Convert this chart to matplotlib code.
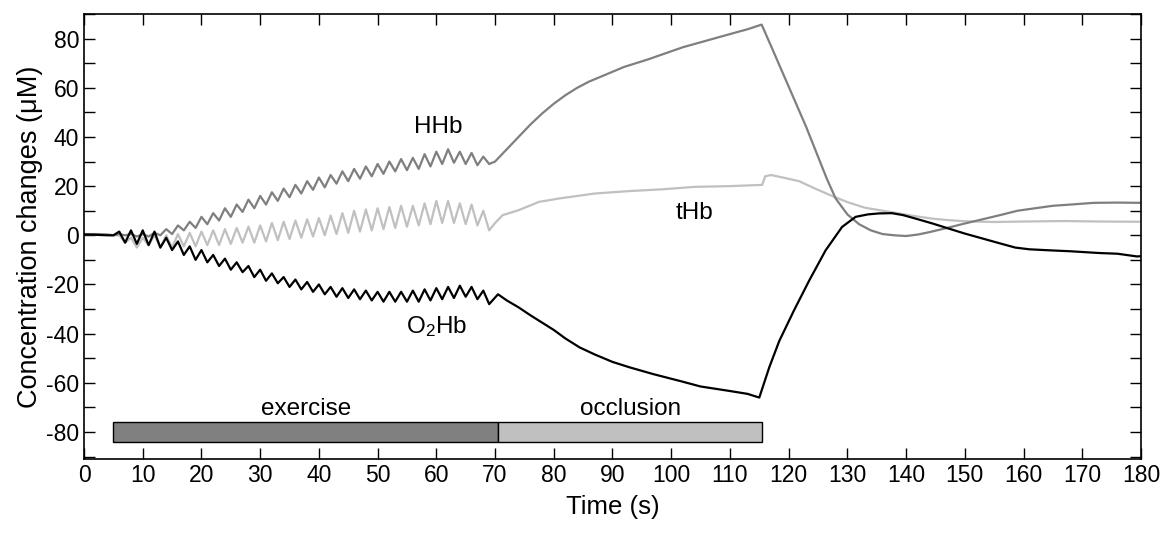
import numpy as np
import matplotlib
matplotlib.use('Agg')
from matplotlib import pyplot as plt
from matplotlib.ticker import MultipleLocator

plt.rcParams['font.family'] = ['Liberation Sans', 'DejaVu Sans']
plt.rcParams['mathtext.fontset'] = 'custom'
plt.rcParams['mathtext.rm'] = 'Liberation Sans'
plt.rcParams['mathtext.default'] = 'regular'
plt.rcParams['axes.unicode_minus'] = False

# ---- data (time in s, concentration in uM) ----
# baseline before exercise
t_base = [0, 2, 4]
hhb_base = [0.5, 0.5, 0.3]
thb_base = [0.5, 0.3, 0.2]
o2hb_base = [0.3, 0.2, 0.0]

# exercise, one extremum per second (t = 5 ... 69)
t_ex = np.arange(5, 70)
hhb_ex = [0, 0.5, 0, 0.5, -0.5, 0.5, -0.5, 1, 0, 2.5, 0.5, 4, 2, 5.5, 3, 7.5,
          4.5, 9, 6, 11, 7.5, 12.5, 9.5, 14.5, 11, 16, 12.5, 17.5, 14, 19, 15.5,
          20.5, 17, 22, 18.5, 23.5, 19.5, 24.5, 21, 26, 22, 27, 23, 28, 24, 29,
          25, 30, 26, 31, 26.5, 31.5, 27, 33, 28, 34, 29, 35, 29.5, 34, 29, 33.5,
          28.5, 32, 29]
thb_ex = [0, 0, -3, -1, -5, -1, -4, 0, -5, 0, -5, 0.5, -4.5, 1, -4.5, 1.5, -4,
          2, -4, 2.5, -3.5, 3, -3, 3.5, -3, 4, -2.5, 5, -2, 5.5, -1.5, 6, -1,
          6.5, -0.5, 7, 0, 8, 0.5, 9, 1, 10, 1.5, 10.5, 2, 11, 2.5, 11.5, 3, 12,
          3.5, 12, 4, 13, 4.5, 14, 5, 14, 5, 13, 4.5, 12.5, 4, 10, 2]
o2hb_ex = [0, 1.5, -3, 2, -3.5, 2, -4, 1.5, -5, -1, -6, -2.5, -8, -4.5, -10, -6,
           -11, -8, -12.5, -9.5, -14, -11, -15, -12.5, -17, -14, -18.5, -15.5,
           -19.5, -17, -21, -18, -22, -19, -23, -20, -24, -21, -25, -21.5, -25.5,
           -22, -26, -22.5, -26.5, -23, -27, -23, -27, -23, -27, -22.5, -27, -22,
           -26.5, -21.5, -26, -21, -25.5, -20.5, -25, -21, -26, -22.5, -28]

# occlusion and recovery
t_hhb_rec = [70, 72, 74, 76, 78, 80, 82, 84, 86, 88, 90, 92, 94, 96, 99, 102,
             105, 108, 111, 113, 115.4, 117, 119, 121, 123, 125, 126.5, 128,
             130, 132, 134, 136, 138, 140, 142, 144, 147, 150, 153, 156, 159,
             162, 165, 168, 172, 176, 180]
hhb_rec = [30, 35, 40, 45, 49.5, 53.5, 57, 60, 62.5, 64.5, 66.5, 68.5, 70, 71.5,
           74, 76.5, 78.5, 80.5, 82.5, 83.8, 85.7, 77, 66, 55, 44, 32, 23, 15,
           8.5, 4.5, 2, 0.5, 0, -0.3, 0.3, 1.3, 3, 4.8, 6.5, 8.2, 10, 11, 12,
           12.5, 13.2, 13.3, 13.2]

t_thb_rec = [70, 71.3, 74, 77.5, 81, 87, 93, 98.5, 104, 110, 115.5, 116, 117,
             119, 121.8, 124.5, 127.4, 130, 133, 136, 138.8, 141.5, 144.4, 147,
             150, 155, 160, 167, 173, 180]
thb_rec = [5, 8.2, 10.2, 13.6, 15, 17, 18, 18.7, 19.7, 20, 20.5, 24, 24.5, 23.5,
           22, 19, 16, 13.5, 11.2, 10, 8.9, 7.8, 6.8, 6.2, 5.7, 5.4, 5.6, 5.8,
           5.6, 5.5]

t_o2hb_rec = [70.5, 72, 74, 76, 78, 80, 82, 84.4, 87, 90, 92.9, 97, 101.4, 105,
              109.9, 113, 115, 116.7, 118.4, 120.9, 123.5, 126.3, 129.1, 131.4,
              133.5, 135.4, 137.6, 139.5, 141.6, 144.5, 147.3, 150, 153, 156,
              158.6, 161, 164.3, 168, 172.8, 176, 179.3, 180]
o2hb_rec = [-24, -26.5, -29.3, -32.5, -35.5, -38.5, -42, -45.6, -48.5, -51.5,
            -53.7, -56.5, -59.2, -61.5, -63.3, -64.5, -66, -53.7, -43, -30.6,
            -18.4, -6.1, 3.4, 7.5, 8.5, 8.9, 9, 8.2, 6.8, 4.8, 2.7, 0.7, -1.3,
            -3.3, -5, -5.7, -6.1, -6.5, -7.2, -7.5, -8.6, -8.5]

# protocol bar
phase_names = ['exercise', 'occlusion']
phase_start = [5, 70.5]
phase_end = [70.5, 115.5]
phase_colors = ['#808080', '#c0c0c0']

if __name__ == '__main__':

    fig = plt.figure(figsize=(11.62, 5.33), dpi=100)
    ax = fig.add_axes([0.0723, 0.1388, 0.9096, 0.8349])

    t_hhb = np.concatenate([t_base, t_ex, t_hhb_rec])
    t_thb = np.concatenate([t_base, t_ex, t_thb_rec])
    t_o2hb = np.concatenate([t_base, t_ex, t_o2hb_rec])

    ax.plot(t_thb, np.concatenate([thb_base, thb_ex, thb_rec]),
            color='#c0c0c0', lw=1.6)
    ax.plot(t_hhb, np.concatenate([hhb_base, hhb_ex, hhb_rec]),
            color='#7f7f7f', lw=1.6)
    ax.plot(t_o2hb, np.concatenate([o2hb_base, o2hb_ex, o2hb_rec]),
            color='black', lw=1.6)

    # protocol bar
    for name, s, e, c in zip(phase_names, phase_start, phase_end, phase_colors):
        ax.barh(-80, e - s, left=s, height=8.4, color=c, edgecolor='black',
                linewidth=1)
        ax.text((s + e) / 2, -70.5, name, ha='center', va='center', fontsize=17.5)

    ax.text(60.3, 44, 'HHb', ha='center', va='center', fontsize=17.5)
    ax.text(104, 9, 'tHb', ha='center', va='center', fontsize=17.5)
    ax.text(60, -37, 'O$_2$Hb', ha='center', va='center', fontsize=17.5)

    ax.set_xlim(0, 180)
    ax.set_ylim(-91, 90)
    ax.xaxis.set_major_locator(MultipleLocator(10))
    ax.yaxis.set_major_locator(MultipleLocator(20))
    ax.yaxis.set_minor_locator(MultipleLocator(10))
    ax.tick_params(which='both', direction='in', top=True, right=True,
                   length=8, width=1, labelsize=16.5)
    for sp in ax.spines.values():
        sp.set_linewidth(1.2)

    ax.set_xlabel('Time (s)', fontsize=18.5, labelpad=6)
    ax.set_ylabel('Concentration changes (\u03bcM)', fontsize=19.5, labelpad=2)

    plt.savefig('out.png', dpi=100)
